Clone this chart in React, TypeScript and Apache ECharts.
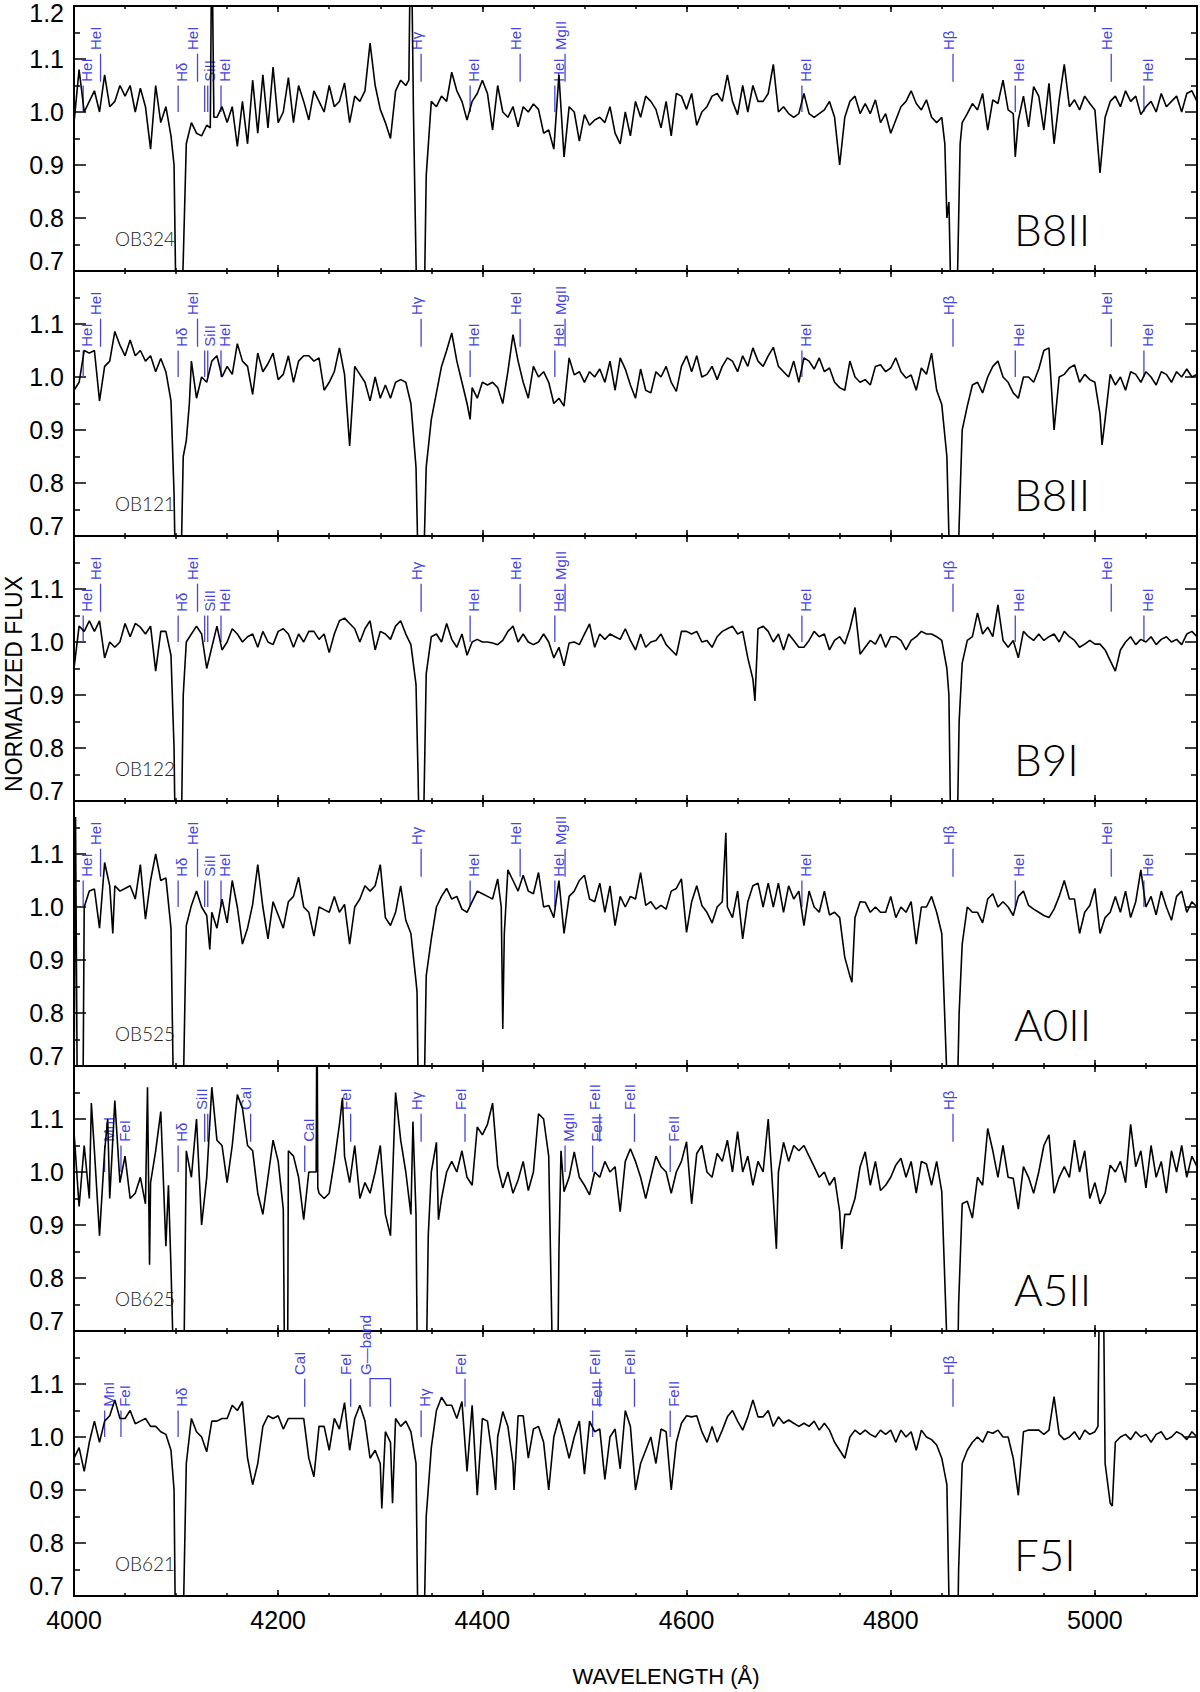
import React, { useEffect, useRef } from 'react';
import * as echarts from 'echarts';

// ---------- wavelength grid (Angstrom) ----------
const WL_START = 4000;
const WL_STEP = 5;

// ---------- normalized flux, one value per 5 A from 4000 to 5100 ----------
const FLUX_OB324 = [
  0.98, 1.08, 1.00, 1.02, 1.04, 1.00, 1.07, 1.01, 1.02, 1.05,
  1.03, 1.05, 1.00, 1.045, 1.01, 0.93, 1.05, 0.98, 1.01, 0.955,
  0.62, 0.60, 0.94, 0.98, 0.96, 0.955, 0.975, 1.35, 0.99, 1.01,
  0.98, 1.01, 0.935, 1.02, 0.94, 1.06, 0.96, 1.07, 0.97, 1.085,
  0.98, 1.00, 1.065, 0.98, 1.05, 1.02, 0.985, 1.04, 1.02, 1.00,
  1.05, 1.01, 1.02, 1.055, 0.98, 1.03, 1.02, 1.04, 1.13, 1.05,
  1.005, 0.98, 0.95, 1.04, 1.06, 1.05, 1.40, 0.72, 0.42, 0.88,
  1.02, 1.01, 1.03, 1.02, 1.075, 1.04, 1.02, 0.985, 1.02, 1.035,
  1.06, 1.035, 0.966, 1.05, 1.00, 0.99, 1.01, 0.972, 1.01, 1.00,
  1.015, 1.005, 0.96, 0.966, 0.93, 1.07, 0.915, 1.01, 1.00, 0.945,
  0.995, 0.975, 0.985, 0.99, 0.98, 1.01, 0.96, 0.94, 1.00, 0.955,
  1.02, 0.99, 1.03, 1.02, 1.005, 0.97, 1.02, 0.955, 1.035, 1.03,
  1.005, 1.035, 0.975, 1.00, 1.01, 1.03, 1.035, 1.02, 1.07, 1.02,
  0.995, 1.05, 1.00, 1.05, 1.02, 1.02, 1.035, 1.09, 1.00, 1.01,
  0.997, 0.99, 0.997, 1.035, 0.997, 0.99, 0.997, 1.004, 1.02, 0.99,
  0.90, 0.99, 1.02, 1.03, 0.997, 1.016, 0.997, 1.023, 0.98, 0.997,
  0.96, 0.985, 1.01, 1.02, 1.04, 1.016, 1.004, 1.023, 0.99, 0.98,
  0.99, 0.80, 0.55, 0.65, 0.98, 0.997, 1.016, 1.004, 1.035, 0.966,
  1.023, 1.016, 1.06, 1.004, 0.997, 0.985, 1.03, 0.972, 1.048, 1.03,
  0.966, 1.054, 0.94, 1.023, 1.09, 1.01, 1.023, 1.004, 1.03, 1.016,
  1.004, 0.885, 0.99, 1.02, 1.03, 1.01, 1.04, 1.02, 1.03, 0.995,
  1.01, 1.02, 1.00, 1.035, 1.01, 1.02, 1.03, 1.00, 1.035, 1.04,
  1.02,
];
const EXTRA_OB324 = [
  [4098, 0.9], [4102, 0.45], [4107, 0.72], [4133.5, 0.97], [4137, 0.99],
  [4328, 1.06], [4332.5, 1.0], [4337, 0.5], [4343, 0.62], [4853, 0.94],
  [4857, 0.83], [4863, 0.45], [4868, 0.94], [4922, 0.915],
];

const FLUX_OB121 = [
  0.975, 0.99, 1.05, 1.045, 1.05, 0.955, 1.02, 1.03, 1.086, 1.06,
  1.04, 1.07, 1.04, 1.05, 1.03, 1.04, 1.01, 1.035, 1.01, 0.955,
  0.55, 0.66, 0.88, 1.03, 0.96, 1.00, 0.99, 1.03, 1.04, 1.00,
  1.02, 1.005, 1.063, 1.03, 1.02, 0.967, 1.045, 1.01, 1.025, 1.045,
  0.995, 1.005, 1.04, 0.99, 1.03, 1.04, 1.04, 1.03, 1.036, 0.975,
  0.99, 1.01, 1.055, 1.005, 0.87, 1.02, 1.005, 0.99, 0.955, 1.00,
  0.96, 0.985, 0.96, 0.99, 0.995, 0.99, 0.95, 0.83, 0.45, 0.83,
  0.92, 0.97, 1.02, 1.05, 1.083, 1.03, 0.99, 0.95, 0.98, 0.96,
  0.99, 0.985, 0.99, 0.98, 0.95, 1.01, 1.08, 1.03, 0.99, 0.96,
  1.02, 1.00, 1.01, 0.99, 0.95, 0.96, 0.945, 1.036, 1.004, 1.01,
  0.99, 1.01, 1.00, 1.015, 0.99, 1.03, 0.975, 1.036, 1.015, 0.985,
  0.96, 1.015, 0.975, 0.97, 1.01, 1.00, 1.02, 0.99, 0.973, 1.02,
  1.04, 1.01, 1.04, 1.00, 1.005, 1.02, 0.995, 1.02, 1.036, 1.03,
  1.01, 1.04, 1.02, 1.055, 1.03, 1.02, 1.04, 1.056, 1.02, 1.01,
  1.00, 1.03, 0.99, 1.036, 1.03, 1.015, 1.036, 1.01, 1.017, 0.99,
  0.98, 0.975, 1.03, 1.00, 0.99, 0.995, 0.985, 1.02, 1.023, 1.01,
  1.017, 1.036, 1.01, 0.998, 1.004, 0.975, 1.017, 1.005, 1.045, 0.975,
  0.948, 0.85, 0.45, 0.55, 0.90, 0.945, 0.985, 0.99, 0.97, 1.00,
  1.02, 1.03, 1.00, 0.99, 0.97, 0.96, 1.00, 1.00, 0.99, 1.015,
  1.05, 1.055, 0.90, 1.00, 1.005, 1.017, 1.023, 0.99, 1.005, 0.995,
  0.99, 0.93, 0.92, 1.005, 0.985, 1.00, 0.975, 1.01, 1.005, 0.99,
  1.01, 1.00, 0.985, 1.01, 1.005, 0.99, 1.01, 1.00, 1.015, 1.00,
  1.005,
];
const EXTRA_OB121 = [
  [4098, 0.78], [4107, 0.85], [4113, 0.95], [4337, 0.65], [4343, 0.68],
  [4388, 0.92], [4857, 0.7], [4867, 0.72], [5007, 0.872],
];

const FLUX_OB122 = [
  0.95, 1.03, 1.02, 1.04, 1.02, 1.04, 0.97, 1.00, 0.99, 1.00,
  1.035, 1.01, 1.035, 1.028, 1.015, 1.03, 0.945, 1.02, 1.02, 0.975,
  0.50, 0.62, 1.00, 1.015, 1.03, 1.015, 0.95, 0.99, 1.03, 0.985,
  1.00, 1.025, 1.015, 1.00, 1.01, 1.015, 0.99, 1.02, 1.00, 0.995,
  1.02, 1.025, 1.015, 0.99, 1.015, 1.00, 1.02, 1.02, 1.005, 1.015,
  0.98, 1.015, 1.04, 1.045, 1.035, 1.025, 1.00, 1.025, 1.04, 0.985,
  1.02, 1.015, 1.005, 1.03, 1.04, 1.015, 0.995, 0.92, 0.45, 0.94,
  1.01, 1.015, 1.00, 1.035, 1.005, 0.99, 1.015, 0.975, 1.00, 1.005,
  1.00, 1.00, 0.998, 0.995, 1.003, 1.02, 1.03, 1.00, 1.015, 1.00,
  0.995, 1.00, 1.015, 1.00, 0.97, 0.99, 0.955, 0.998, 1.00, 0.995,
  1.015, 1.034, 0.99, 1.015, 1.005, 1.015, 1.01, 1.005, 1.025, 1.003,
  0.985, 1.015, 0.99, 1.00, 1.003, 1.015, 0.995, 0.985, 0.975, 1.02,
  1.02, 1.015, 1.02, 1.00, 1.003, 0.99, 1.01, 1.02, 1.025, 1.03,
  1.015, 1.02, 0.97, 0.93, 1.025, 1.03, 1.02, 1.00, 1.015, 0.985,
  1.015, 1.003, 0.99, 0.99, 1.003, 1.02, 1.01, 1.015, 0.985, 1.003,
  1.01, 0.996, 1.025, 1.065, 0.977, 0.99, 1.003, 0.996, 1.015, 0.99,
  1.01, 1.01, 1.003, 0.985, 1.003, 1.01, 1.02, 1.015, 1.015, 1.01,
  1.003, 0.95, 0.45, 0.62, 0.96, 1.003, 1.01, 1.055, 1.015, 1.028,
  1.01, 1.07, 1.003, 0.99, 1.003, 0.97, 1.02, 1.01, 1.003, 1.015,
  1.003, 1.01, 1.015, 1.00, 1.02, 1.01, 1.003, 0.99, 0.996, 1.003,
  0.996, 0.996, 0.985, 0.965, 0.945, 0.985, 1.00, 1.01, 0.995, 1.005,
  1.00, 1.01, 0.995, 1.005, 1.01, 1.00, 1.005, 0.995, 1.015, 1.02,
  1.01,
];
const EXTRA_OB122 = [
  [4098, 0.8], [4107, 0.9], [4337, 0.75], [4343, 0.72], [4667, 0.889],
  [4857, 0.9], [4867, 0.85],
];

const FLUX_OB525 = [
  0.65, 0.50, 1.00, 1.03, 1.034, 0.96, 1.084, 1.04, 1.04, 1.03,
  1.035, 1.04, 1.015, 1.08, 0.977, 1.05, 1.10, 1.05, 1.055, 0.96,
  0.45, 0.50, 0.965, 1.003, 1.03, 1.00, 0.984, 0.99, 0.96, 1.015,
  0.97, 1.05, 1.00, 0.93, 0.96, 1.005, 1.08, 1.00, 0.94, 1.01,
  0.985, 0.96, 1.01, 1.02, 1.056, 1.00, 0.99, 0.945, 1.00, 0.995,
  0.99, 1.02, 0.99, 1.005, 0.93, 1.00, 1.015, 1.04, 1.03, 1.04,
  1.08, 0.98, 0.965, 0.99, 1.04, 0.975, 0.95, 0.86, 0.45, 0.87,
  0.94, 1.00, 1.02, 1.035, 1.015, 1.02, 0.996, 0.99, 1.01, 1.03,
  1.025, 1.02, 1.015, 1.053, 0.77, 1.07, 1.05, 1.03, 1.06, 1.03,
  1.025, 1.065, 1.00, 1.003, 0.98, 1.05, 0.95, 1.02, 1.03, 1.05,
  1.06, 1.015, 1.01, 1.045, 0.99, 1.04, 0.965, 1.02, 1.00, 1.02,
  1.015, 1.065, 1.003, 1.01, 0.996, 1.003, 0.996, 1.03, 1.035, 1.053,
  0.952, 1.01, 1.04, 1.003, 0.99, 0.97, 1.00, 1.01, 1.00, 0.98,
  1.03, 0.94, 1.01, 1.04, 1.045, 1.00, 1.045, 1.00, 1.045, 0.99,
  1.04, 1.015, 1.03, 0.965, 1.03, 1.00, 0.99, 1.03, 0.985, 0.99,
  0.98, 0.905, 0.87, 0.98, 1.01, 1.009, 0.99, 1.00, 0.99, 0.99,
  1.02, 0.98, 1.00, 0.99, 1.01, 0.93, 1.00, 1.00, 1.02, 0.99,
  0.95, 0.68, 0.45, 0.62, 0.93, 1.00, 0.99, 0.99, 0.97, 1.015,
  1.025, 1.00, 1.01, 1.00, 0.984, 1.02, 1.03, 1.003, 0.996, 0.99,
  0.984, 0.98, 0.996, 1.02, 1.05, 1.015, 1.015, 0.95, 0.99, 1.003,
  1.035, 0.95, 0.98, 0.99, 1.02, 0.99, 1.03, 0.98, 1.01, 1.07,
  1.00, 1.02, 0.985, 1.03, 1.00, 0.975, 1.02, 1.03, 0.99, 1.01,
  1.00,
];
const EXTRA_OB525 = [
  [4001.5, 1.17], [4003.5, 0.55], [4008.5, 0.55], [4038, 0.95], [4097, 0.7],
  [4107.5, 0.7], [4133, 0.92], [4336, 0.84], [4337.5, 0.6], [4343.5, 0.7],
  [4418.5, 1.0], [4421.5, 0.95], [4638.5, 1.14], [4762, 0.858], [4867, 0.8],
];

const FLUX_OB625 = [
  1.076, 0.935, 1.05, 0.95, 1.04, 0.88, 1.04, 0.95, 1.135, 0.98,
  1.03, 0.95, 0.96, 0.99, 0.94, 0.98, 1.04, 1.114, 0.86, 0.82,
  0.45, 0.45, 1.04, 0.99, 1.10, 0.90, 0.99, 1.16, 1.06, 1.05,
  0.98, 1.05, 1.146, 1.12, 1.05, 1.04, 0.96, 0.92, 0.99, 1.06,
  1.02, 0.93, 1.04, 1.03, 0.99, 0.91, 1.00, 1.00, 0.96, 0.95,
  0.96, 1.02, 1.09, 1.03, 0.98, 1.05, 0.95, 0.98, 0.96, 1.00,
  1.05, 0.92, 0.88, 1.15, 1.06, 1.00, 0.92, 0.92, 0.45, 0.62,
  1.00, 1.056, 0.95, 1.00, 1.02, 1.00, 1.04, 0.99, 0.975, 1.085,
  1.07, 1.09, 1.13, 1.01, 0.97, 1.00, 0.96, 0.985, 1.02, 0.965,
  1.00, 1.11, 1.10, 1.03, 0.50, 0.85, 0.963, 0.99, 1.038, 0.99,
  0.975, 0.957, 1.00, 0.99, 1.02, 1.00, 1.01, 0.925, 1.02, 1.044,
  1.02, 0.99, 0.95, 0.99, 1.03, 1.01, 1.00, 0.96, 1.00, 1.02,
  1.057, 0.94, 1.035, 1.05, 1.00, 0.99, 1.035, 1.02, 1.06, 1.00,
  1.076, 1.00, 1.03, 0.975, 1.02, 1.00, 1.10, 0.95, 1.00, 1.056,
  1.02, 1.05, 1.04, 1.05, 1.03, 1.01, 0.99, 1.00, 0.975, 0.99,
  0.925, 0.92, 0.92, 0.95, 1.01, 1.038, 0.975, 1.02, 0.965, 0.975,
  0.99, 1.013, 1.026, 0.99, 1.02, 0.96, 1.02, 1.015, 0.975, 1.02,
  0.963, 0.68, 0.45, 0.55, 0.94, 0.945, 0.913, 0.99, 0.975, 1.082,
  1.04, 0.99, 1.05, 0.99, 0.988, 0.93, 1.01, 0.99, 0.96, 1.00,
  1.05, 1.07, 0.96, 0.99, 1.01, 0.99, 1.06, 1.00, 1.04, 0.95,
  0.98, 0.94, 0.96, 1.013, 1.00, 1.02, 0.98, 1.09, 1.01, 1.04,
  0.97, 1.05, 0.99, 1.02, 0.96, 1.04, 1.00, 1.05, 0.99, 1.03,
  1.01,
];
const EXTRA_OB625 = [
  [4017, 1.13], [4033, 1.1], [4072, 1.16], [4074, 0.825], [4092.5, 0.975],
  [4108, 0.7], [4207, 0.45], [4209, 0.5], [4237.2, 1.0], [4238, 1.35],
  [4238.8, 0.97], [4263, 1.14], [4332, 1.095], [4336.5, 0.6], [4347, 0.88],
  [4357, 0.91], [4473, 0.45], [4477, 1.04], [4688, 0.855], [4752, 0.855],
  [4866.5, 0.75],
];

const FLUX_OB621 = [
  0.96, 0.98, 0.935, 0.99, 1.03, 0.99, 1.03, 1.04, 1.07, 1.035,
  1.035, 1.05, 1.025, 1.03, 1.035, 1.02, 1.02, 1.01, 1.005, 0.975,
  0.50, 0.50, 0.95, 1.035, 1.01, 1.00, 0.972, 1.03, 1.03, 1.035,
  1.035, 1.06, 1.05, 1.067, 0.96, 0.91, 0.95, 1.02, 1.04, 1.035,
  1.04, 1.015, 1.035, 1.035, 1.035, 1.035, 0.96, 0.925, 1.02, 1.02,
  0.975, 1.035, 1.015, 1.065, 0.975, 1.035, 1.06, 1.03, 0.96, 0.975,
  0.95, 1.01, 0.99, 1.035, 1.02, 1.03, 1.01, 0.95, 0.45, 0.85,
  0.98, 1.05, 1.075, 1.06, 1.06, 1.035, 1.067, 0.935, 1.06, 0.89,
  1.035, 1.03, 0.96, 1.00, 1.048, 1.02, 0.95, 1.04, 1.04, 0.96,
  1.015, 1.02, 0.99, 0.90, 1.00, 1.035, 1.00, 0.96, 1.00, 1.03,
  0.93, 1.03, 1.01, 1.015, 0.92, 1.00, 1.015, 0.94, 1.05, 1.02,
  0.90, 0.95, 0.975, 1.00, 0.95, 1.015, 1.01, 0.90, 0.99, 1.026,
  1.04, 1.038, 1.04, 1.01, 0.99, 1.02, 0.99, 1.013, 1.038, 1.05,
  1.03, 1.013, 1.038, 1.07, 1.038, 1.038, 1.05, 1.02, 1.038, 1.026,
  1.032, 1.026, 1.02, 1.026, 1.02, 1.03, 1.013, 1.026, 1.013, 0.99,
  0.975, 0.96, 1.00, 1.013, 1.005, 1.013, 1.005, 1.00, 1.013, 1.005,
  1.013, 0.99, 1.013, 1.00, 1.01, 0.975, 1.013, 1.00, 0.995, 0.985,
  0.96, 0.91, 0.45, 0.55, 0.95, 0.975, 0.99, 1.00, 0.99, 1.01,
  1.007, 1.013, 1.00, 1.00, 0.96, 0.89, 1.01, 1.013, 1.013, 1.013,
  1.005, 1.013, 1.076, 1.005, 0.995, 1.00, 1.01, 0.995, 1.013, 1.005,
  1.01, 1.40, 0.95, 0.875, 0.99, 1.00, 1.005, 0.995, 1.01, 1.00,
  1.005, 0.99, 1.005, 1.01, 0.995, 1.00, 1.01, 1.005, 0.995, 1.01,
  1.00,
];
const EXTRA_OB621 = [
  [4098, 0.9], [4107.5, 0.7], [4301.5, 0.865], [4312, 0.875], [4336.5, 0.7],
  [4343.5, 0.7], [4413, 0.9], [4431, 0.9], [4857, 0.7], [4866.5, 0.75],
  [5003, 1.02], [5008, 1.35], [5017, 0.87],
];

// ---------- line identifications (level 0 = low tick, 1 = high tick) ----------
const MARKERS_B = [
  { wl: 4009, label: 'HeI', level: 0 },
  { wl: 4026, label: 'HeI', level: 1 },
  { wl: 4102, label: 'Hδ', level: 0 },
  { wl: 4121, label: 'HeI', level: 1 },
  { wl: 4128, wl2: 4131, label: 'SiII', level: 0 },
  { wl: 4144, label: 'HeI', level: 0 },
  { wl: 4340, label: 'Hγ', level: 1 },
  { wl: 4388, label: 'HeI', level: 0 },
  { wl: 4437, label: 'HeI', level: 1 },
  { wl: 4471, label: 'HeI', level: 0 },
  { wl: 4481, label: 'MgII', level: 1 },
  { wl: 4713, label: 'HeI', level: 0 },
  { wl: 4861, label: 'Hβ', level: 1 },
  { wl: 4922, label: 'HeI', level: 0 },
  { wl: 5016, label: 'HeI', level: 1 },
  { wl: 5048, label: 'HeI', level: 0 },
];
const MARKERS_A5 = [
  { wl: 4030, label: 'MnI', level: 0 },
  { wl: 4046, label: 'FeI', level: 0 },
  { wl: 4102, label: 'Hδ', level: 0 },
  { wl: 4128, wl2: 4131, label: 'SiII', level: 1 },
  { wl: 4173, label: 'CaI', level: 1 },
  { wl: 4226, label: 'CaI', level: 0 },
  { wl: 4271, label: 'FeI', level: 1 },
  { wl: 4340, label: 'Hγ', level: 1 },
  { wl: 4383, label: 'FeI', level: 1 },
  { wl: 4481, label: 'MgII', level: 0 },
  { wl: 4508, label: 'FeII', level: 0 },
  { wl: 4515, label: 'FeII', level: 1 },
  { wl: 4549, label: 'FeII', level: 1 },
  { wl: 4584, label: 'FeII', level: 0 },
  { wl: 4861, label: 'Hβ', level: 1 },
];
const MARKERS_F5 = [
  { wl: 4030, label: 'MnI', level: 0 },
  { wl: 4046, label: 'FeI', level: 0 },
  { wl: 4102, label: 'Hδ', level: 0 },
  { wl: 4226, label: 'CaI', level: 1 },
  { wl: 4271, label: 'FeI', level: 1 },
  { wl: 4290, wl2: 4310, label: 'G—band', level: 1, bracket: true },
  { wl: 4340, label: 'Hγ', level: 0 },
  { wl: 4383, label: 'FeI', level: 1 },
  { wl: 4508, label: 'FeII', level: 0 },
  { wl: 4515, label: 'FeII', level: 1 },
  { wl: 4549, label: 'FeII', level: 1 },
  { wl: 4584, label: 'FeII', level: 0 },
  { wl: 4861, label: 'Hβ', level: 1 },
];

const STAR_IDS = ['OB324', 'OB121', 'OB122', 'OB525', 'OB625', 'OB621'];
const SPECTRAL_TYPES = ['B8II', 'B8II', 'B9I', 'A0II', 'A5II', 'F5I'];
const FLUXES = [FLUX_OB324, FLUX_OB121, FLUX_OB122, FLUX_OB525, FLUX_OB625, FLUX_OB621];
const EXTRAS = [EXTRA_OB324, EXTRA_OB121, EXTRA_OB122, EXTRA_OB525, EXTRA_OB625, EXTRA_OB621];
const MARKER_SETS = [MARKERS_B, MARKERS_B, MARKERS_B, MARKERS_B, MARKERS_A5, MARKERS_F5];

const X_MIN = 4000;
const X_MAX = 5100;
const Y_MIN = 0.7;
const Y_MAX = 1.2;

// ---------- layout / style ----------
const PLOT_LEFT = 74;
const PLOT_TOP = 6;
const PLOT_W = 1123;
const PANEL_H = 265;
const FONT = '"Liberation Sans", "DejaVu Sans", Arial, sans-serif';
const LIGHT_FONT = '"Lato Light", "Open Sans Light", "DejaVu Sans ExtraLight", "Liberation Sans", sans-serif';
const BLUE = '#4444e0';

function buildSeriesData(flux: number[], extra: number[][]) {
  const pts: number[][] = flux.map((v, i) => [WL_START + i * WL_STEP, v]);
  extra.forEach((p) => pts.push([p[0], p[1]]));
  pts.sort((a, b) => a[0] - b[0]);
  return pts;
}

function markerRenderer(markers: any[]) {
  return (params: any, api: any) => {
    const m = markers[params.dataIndex];
    const up = m.level === 1;
    const lo = up ? 1.057 : 1.0;
    const hi = up ? 1.11 : 1.05;
    const ts = up ? 1.117 : 1.057;
    const children: any[] = [];
    const seg = (wl: number) => {
      const a = api.coord([wl, lo]);
      const b = api.coord([wl, hi]);
      return {
        type: 'line',
        shape: { x1: a[0], y1: a[1], x2: b[0], y2: b[1] },
        style: { stroke: BLUE, lineWidth: 1.3 },
      };
    };
    if (m.bracket) {
      const a = api.coord([m.wl, lo]);
      const b = api.coord([m.wl, hi]);
      const c = api.coord([m.wl2, hi]);
      const d = api.coord([m.wl2, lo]);
      children.push({
        type: 'polyline',
        shape: { points: [a, b, c, d] },
        style: { stroke: BLUE, lineWidth: 1.3, fill: 'none' },
      });
    } else {
      children.push(seg(m.wl));
      if (m.wl2) children.push(seg(m.wl2));
    }
    const textWl = m.wl2 && !m.bracket ? (m.wl + m.wl2) / 2 : m.wl;
    const t = api.coord([textWl, ts]);
    children.push({
      type: 'text',
      x: t[0] + (up ? -5 : 3.5),
      y: t[1],
      rotation: Math.PI / 2,
      style: {
        text: m.label,
        fill: BLUE,
        fontSize: 15,
        fontFamily: FONT,
        align: 'left',
        verticalAlign: 'middle',
      },
    });
    return { type: 'group', children };
  };
}

function buildOption() {
  const tickStyle = { color: '#000', width: 1.5 };
  const grid: any[] = [];
  const xAxis: any[] = [];
  const yAxis: any[] = [];
  const series: any[] = [];
  const graphic: any[] = [];
  const n = STAR_IDS.length;

  for (let i = 0; i < n; i++) {
    const top = PLOT_TOP + i * PANEL_H;
    const bottom = top + PANEL_H;
    const last = i === n - 1;
    grid.push({
      left: PLOT_LEFT,
      top,
      width: PLOT_W,
      height: PANEL_H,
      show: true,
      borderColor: '#000',
      borderWidth: 2,
      backgroundColor: 'transparent',
    });
    const xBase = {
      gridIndex: i,
      type: 'value',
      min: X_MIN,
      max: X_MAX,
      axisLine: { show: false },
      splitLine: { show: false },
    };
    xAxis.push({
      ...xBase,
      position: 'bottom',
      interval: 200,
      axisTick: { inside: true, length: 6, lineStyle: tickStyle },
      axisLabel: {
        show: last,
        margin: 11,
        fontSize: 25,
        color: '#000',
        fontFamily: FONT,
        formatter: (v: number) => (Math.round(v) % 200 === 0 ? String(Math.round(v)) : ''),
      },
    });
    xAxis.push({
      ...xBase,
      position: 'bottom',
      interval: 50,
      axisTick: { inside: true, length: 3, lineStyle: tickStyle },
      axisLabel: { show: false },
    });
    xAxis.push({
      ...xBase,
      position: 'top',
      interval: 200,
      axisTick: { inside: true, length: 6, lineStyle: tickStyle },
      axisLabel: { show: false },
    });
    xAxis.push({
      ...xBase,
      position: 'top',
      interval: 50,
      axisTick: { inside: true, length: 3, lineStyle: tickStyle },
      axisLabel: { show: false },
    });

    const yBase = {
      gridIndex: i,
      type: 'value',
      min: Y_MIN,
      max: Y_MAX,
      interval: 0.1,
      axisLine: { show: false },
      splitLine: { show: false },
      minorSplitLine: { show: false },
      axisTick: { inside: true, length: 12, lineStyle: tickStyle },
      minorTick: { show: true, splitNumber: 2, length: 6, lineStyle: tickStyle },
    };
    const panelIndex = i;
    yAxis.push({
      ...yBase,
      position: 'left',
      axisLabel: {
        margin: 10,
        fontSize: 25,
        color: '#000',
        fontFamily: FONT,
        formatter: (v: number) => {
          if (Math.abs(v - Y_MAX) < 1e-6) return panelIndex === 0 ? '{hi|1.2}' : '';
          if (Math.abs(v - Y_MIN) < 1e-6) return '{lo|0.7}';
          return v.toFixed(1);
        },
        rich: {
          hi: { fontSize: 25, fontFamily: FONT, color: '#000', padding: [14, 0, 0, 0] },
          lo: { fontSize: 25, fontFamily: FONT, color: '#000', padding: [0, 0, 20, 0] },
        },
      },
    });
    yAxis.push({ ...yBase, position: 'right', axisLabel: { show: false } });

    series.push({
      type: 'line',
      xAxisIndex: i * 4,
      yAxisIndex: i * 2,
      data: buildSeriesData(FLUXES[i], EXTRAS[i]),
      symbol: 'none',
      showSymbol: false,
      lineStyle: { color: '#000', width: 1.6 },
      itemStyle: { color: '#000' },
      clip: true,
      silent: true,
      z: 3,
    });
    const markers = MARKER_SETS[i];
    series.push({
      type: 'custom',
      xAxisIndex: i * 4,
      yAxisIndex: i * 2,
      data: markers.map((m: any) => [m.wl, m.level]),
      renderItem: markerRenderer(markers),
      clip: false,
      silent: true,
      z: 2,
    });

    graphic.push({
      type: 'text',
      x: 115,
      y: bottom - 33,
      style: {
        text: STAR_IDS[i],
        fontSize: 19,
        fontFamily: LIGHT_FONT,
        fontWeight: 300,
        fill: '#222',
        align: 'left',
        verticalAlign: 'middle',
      },
    });
    graphic.push({
      type: 'text',
      x: 1014,
      y: bottom - 42,
      style: {
        text: SPECTRAL_TYPES[i],
        fontSize: 44,
        fontFamily: LIGHT_FONT,
        fontWeight: 300,
        fill: '#000',
        align: 'left',
        verticalAlign: 'middle',
      },
    });
  }

  graphic.push({
    type: 'text',
    x: 14,
    y: 684,
    rotation: Math.PI / 2,
    style: {
      text: 'NORMALIZED FLUX',
      fontSize: 23,
      fontFamily: FONT,
      fill: '#000',
      align: 'center',
      verticalAlign: 'middle',
    },
  });
  graphic.push({
    type: 'text',
    x: 666,
    y: 1676,
    style: {
      text: 'WAVELENGTH (Å)',
      fontSize: 22,
      fontFamily: FONT,
      fill: '#000',
      align: 'center',
      verticalAlign: 'middle',
    },
  });

  return {
    animation: false,
    backgroundColor: '#ffffff',
    grid,
    xAxis,
    yAxis,
    series,
    graphic,
  };
}

export default function App() {
  const ref = useRef<HTMLDivElement | null>(null);
  useEffect(() => {
    if (!ref.current) return;
    const chart = echarts.init(ref.current, null, { renderer: 'svg' });
    chart.setOption(buildOption() as any);
    return () => {
      chart.dispose();
    };
  }, []);
  return (
    <div
      ref={ref}
      style={{ position: 'fixed', left: 0, top: 0, width: 1200, height: 1692, background: '#fff' }}
    />
  );
}
